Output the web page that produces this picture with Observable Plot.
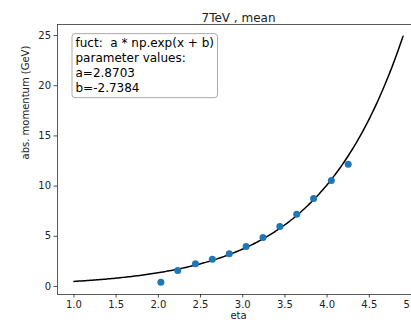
<!DOCTYPE html>
<html>
<head>
<meta charset="utf-8">
<script src="https://cdn.jsdelivr.net/npm/d3@7"></script>
<script src="https://cdn.jsdelivr.net/npm/@observablehq/plot@0.6"></script>
<style>
  html, body { margin: 0; padding: 0; background: #fff; overflow: hidden; }
  #chart { width: 411px; height: 325px; overflow: hidden; }
  #chart svg { max-width: none !important; }
</style>
</head>
<body>
<div id="chart"></div>
<script>
// Measured mean absolute momentum per eta bin
const eta = [2.03, 2.23, 2.44, 2.64, 2.84, 3.04, 3.24, 3.44, 3.64, 3.84, 4.05, 4.25];
const momentum = [0.43, 1.59, 2.26, 2.72, 3.25, 3.98, 4.88, 5.98, 7.20, 8.76, 10.56, 12.18];

// Fit parameters of a * exp(x + b)
const fitA = 2.8703;
const fitB = -2.7384;
const fitRange = [1.0, 4.9];

const xTicks = [1.0, 1.5, 2.0, 2.5, 3.0, 3.5, 4.0, 4.5, 5.0];
const yTicks = [0, 5, 10, 15, 20, 25];

const titleText = "7TeV , mean";
const xLabel = "eta";
const yLabel = "abs. momentum (GeV)";
const boxLines = [
  "fuct:  a * np.exp(x + b)",
  "parameter values:",
  `a=${fitA.toFixed(4)}`,
  `b=${fitB.toFixed(4)}`
];

const points = eta.map((e, i) => ({eta: e, p: momentum[i]}));
const curve = d3.range(0, 201).map(i => {
  const x = fitRange[0] + (fitRange[1] - fitRange[0]) * i / 200;
  return {eta: x, p: fitA * Math.exp(x + fitB)};
});

const ink = "#222";
const font = "DejaVu Sans, sans-serif";

const chart = Plot.plot({
  width: 420,
  height: 325,
  marginLeft: 57,
  marginRight: 1,
  marginTop: 24,
  marginBottom: 31,
  style: {fontFamily: font, fontSize: "10px", color: ink, background: "#fff", overflow: "visible", maxWidth: "none"},
  x: {domain: [0.805, 5.095]},
  y: {domain: [-0.8, 26.1]},
  marks: [
    Plot.frame({stroke: "#333", strokeWidth: 0.8}),
    Plot.axisX({ticks: xTicks, tickFormat: d => d.toFixed(1), tickSize: 3.5, tickPadding: 3, label: null, stroke: ink, strokeWidth: 0.8, fill: ink, fontSize: 10}),
    Plot.axisY({ticks: yTicks, tickFormat: d => String(d), tickSize: 3.5, tickPadding: 3, label: null, stroke: ink, strokeWidth: 0.8, fill: ink, fontSize: 10}),
    Plot.line(curve, {x: "eta", y: "p", stroke: "#000", strokeWidth: 1.5}),
    Plot.dot(points, {x: "eta", y: "p", r: 3.5, fill: "#1f77b4", stroke: "none"}),
    Plot.text([titleText], {frameAnchor: "top", dy: -11, fontSize: 12, fill: ink}),
    Plot.text([xLabel], {frameAnchor: "bottom", dy: 24, fontSize: 10, fill: ink}),
    Plot.text([yLabel], {frameAnchor: "left", dx: -32, rotate: -90, fontSize: 10, fill: ink}),
    Plot.text([boxLines.join("\n")], {frameAnchor: "top-left", dx: 18, dy: 12, textAnchor: "start", lineAnchor: "top", lineHeight: 1.25, fontSize: 12, fill: "#000", className: "fitbox"})
  ]
});

document.getElementById("chart").appendChild(chart);

// Rounded box behind the fit annotation, sized from the rendered text
const boxText = chart.querySelector(".fitbox text");
if (boxText) {
  const bb = boxText.getBBox();
  const pad = 3.5;
  d3.select(boxText.parentNode)
    .insert("rect", "text")
    .attr("transform", boxText.getAttribute("transform"))
    .attr("x", bb.x - pad)
    .attr("y", bb.y - pad + 1)
    .attr("width", bb.width + 2 * pad)
    .attr("height", bb.height + 2 * pad - 2)
    .attr("rx", 3)
    .attr("fill", "#fff")
    .attr("fill-opacity", 0.8)
    .attr("stroke", "#aaa")
    .attr("stroke-width", 1);
}
</script>
</body>
</html>
